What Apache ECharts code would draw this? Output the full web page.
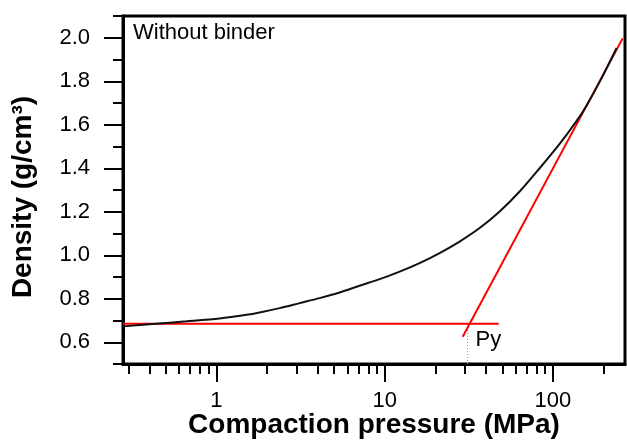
<!DOCTYPE html>
<html>
<head>
<meta charset="utf-8">
<script src="https://cdn.jsdelivr.net/npm/echarts@6/dist/echarts.min.js"></script>
<style>
  html, body { margin: 0; padding: 0; background: #fff; }
  #chart { width: 627px; height: 443px; }
</style>
</head>
<body>
<div id="chart"></div>
<script>
// density curve (MPa, g/cm3)
var pressure = [0.279, 0.418, 0.666, 1.046, 1.514, 1.808, 2.378, 3.126, 4.11, 5.403, 7.105, 9.34, 12.28, 16.14, 21.22, 27.9, 36.69, 48.24, 63.41, 83.37, 109.6, 138.3, 158.6, 189.4, 239];
var density = [0.673, 0.684, 0.696, 0.709, 0.726, 0.737, 0.757, 0.780, 0.803, 0.829, 0.860, 0.890, 0.925, 0.964, 1.010, 1.063, 1.125, 1.201, 1.293, 1.400, 1.512, 1.618, 1.689, 1.797, 1.953];

// red construction lines
var baseX = [0.279, 47.6], baseY = [0.685, 0.685];
var slopeX = [29.1, 259.5], slopeY = [0.625, 1.997];
var pyX = 31.1, pyY = 0.685;

// ticks
var xMajor = [1, 10, 100];
var xMinor = [0.3, 0.4, 0.5, 0.6, 0.7, 0.8, 0.9, 2, 3, 4, 5, 6, 7, 8, 9, 20, 30, 40, 50, 60, 70, 80, 90, 200];
var yMajor = [0.6, 0.8, 1.0, 1.2, 1.4, 1.6, 1.8, 2.0];
var yMinor = [0.5, 0.7, 0.9, 1.1, 1.3, 1.5, 1.7, 1.9, 2.1];

var FONT = 'Liberation Sans, Arial, sans-serif';
var X_MIN = 0.279, X_MAX = 268, Y_MIN = 0.5, Y_MAX = 2.1;

function zip(a, b) {
  var out = [];
  for (var i = 0; i < a.length; i++) out.push([a[i], b[i]]);
  return out;
}

var myChart = echarts.init(document.getElementById('chart'), null, { renderer: 'canvas' });

var option = {
  animation: false,
  backgroundColor: '#fff',
  title: {
    text: 'Without binder',
    left: 133, top: 22, padding: 0,
    textStyle: { fontFamily: FONT, fontSize: 22, fontWeight: 'normal', color: '#000' }
  },
  grid: {
    left: 123, right: 2, top: 16, bottom: 79,
    show: true, borderColor: '#000', borderWidth: 3,
    outerBoundsMode: 'none', containLabel: false
  },
  xAxis: [{
    type: 'log', min: X_MIN, max: X_MAX, position: 'bottom',
    name: 'Compaction pressure (MPa)', nameLocation: 'middle', nameGap: 47, nameMoveOverlap: false,
    nameTextStyle: { fontFamily: FONT, fontSize: 28, fontWeight: 'bold', color: '#000' },
    axisLine: { show: true, lineStyle: { color: '#000', width: 3 } },
    axisTick: { show: true, inside: false, length: 18, customValues: xMajor, lineStyle: { color: '#000', width: 2 } },
    axisLabel: { show: true, customValues: xMajor, margin: 26, fontFamily: FONT, fontSize: 22, color: '#000',
      formatter: function (v) { return String(Math.round(v)); } },
    splitLine: { show: false }, minorTick: { show: false }
  }, {
    type: 'log', min: X_MIN, max: X_MAX, position: 'bottom',
    axisLine: { show: false },
    axisTick: { show: true, inside: false, length: 10, customValues: xMinor, lineStyle: { color: '#000', width: 2 } },
    axisLabel: { show: false },
    splitLine: { show: false }
  }],
  yAxis: [{
    type: 'value', min: Y_MIN, max: Y_MAX, position: 'left',
    name: 'Density (g/cm³)', nameLocation: 'middle', nameGap: 86, nameMoveOverlap: false,
    nameTextStyle: { fontFamily: FONT, fontSize: 28, fontWeight: 'bold', color: '#000', padding: [0, 14, 0, 0] },
    axisLine: { show: true, lineStyle: { color: '#000', width: 3 } },
    axisTick: { show: true, inside: false, length: 19, customValues: yMajor, lineStyle: { color: '#000', width: 2 } },
    axisLabel: { show: true, customValues: yMajor, margin: 33, fontFamily: FONT, fontSize: 22, color: '#000',
      padding: [0, 0, 4, 0],
      formatter: function (v) { return v.toFixed(1); } },
    splitLine: { show: false }
  }, {
    type: 'value', min: Y_MIN, max: Y_MAX, position: 'left',
    axisLine: { show: false },
    axisTick: { show: true, inside: false, length: 10, customValues: yMinor, lineStyle: { color: '#000', width: 2 } },
    axisLabel: { show: false },
    splitLine: { show: false }
  }],
  series: [{
    // dotted drop line to Py
    type: 'line', data: [[pyX, Y_MIN], [pyX, pyY]],
    symbol: 'none', lineStyle: { color: '#999', width: 1, type: [1, 2] }, z: 1
  }, {
    type: 'line', data: zip(baseX, baseY),
    symbol: 'none', lineStyle: { color: '#ff0000', width: 2 }, z: 2
  }, {
    type: 'line', data: zip(slopeX, slopeY),
    symbol: 'none', lineStyle: { color: '#ff0000', width: 2 }, z: 2
  }, {
    type: 'line', data: zip(pressure, density), smooth: 0.3,
    symbol: 'none', lineStyle: { color: '#111', width: 2 }, z: 3
  }, {
    // Py label
    type: 'scatter', data: [[pyX, pyY]], symbolSize: 0.1,
    itemStyle: { color: '#000', opacity: 1 },
    label: { show: true, formatter: 'Py', position: 'right', distance: 8, offset: [0, 16],
      fontFamily: FONT, fontSize: 22, color: '#000', opacity: 1 },
    emphasis: { disabled: true },
    z: 4
  }]
};

myChart.setOption(option);
</script>
</body>
</html>
